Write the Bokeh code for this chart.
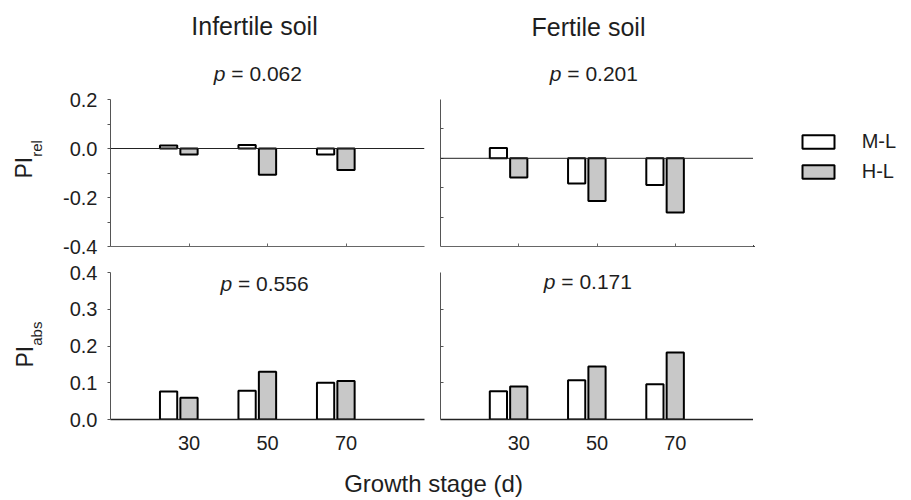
from math import pi
from bokeh.plotting import figure
from bokeh.layouts import column, row
from bokeh.models import (Range1d, FixedTicker, NumeralTickFormatter, Span, Label,
                          Legend, LegendItem, ColumnDataSource)
from bokeh.transform import dodge
from bokeh.embed import file_html
from bokeh.resources import INLINE

# ---------------- data ----------------
stages = [30, 50, 70]
series = ["M-L", "H-L"]
soil_titles = ["Infertile soil", "Fertile soil"]
p_values = ["0.062", "0.201", "0.556", "0.171"]

rel_infertile_ml = [0.012, 0.014, -0.024]
rel_infertile_hl = [-0.024, -0.107, -0.088]
rel_fertile_ml = [0.035, -0.086, -0.091]
rel_fertile_hl = [-0.065, -0.145, -0.184]
abs_infertile_ml = [0.076, 0.078, 0.100]
abs_infertile_hl = [0.059, 0.130, 0.105]
abs_fertile_ml = [0.077, 0.107, 0.096]
abs_fertile_hl = [0.090, 0.144, 0.182]

rel_major_ticks = [-0.4, -0.2, 0.0, 0.2]
rel_minor_ticks = [-0.3, -0.1, 0.1]
rel_fertile_ticks = [-0.2, -0.1, 0.0, 0.1]
abs_ticks = [0.0, 0.1, 0.2, 0.3, 0.4]
abs_minor_ticks = [0.1, 0.2, 0.3]

# ---------------- style ----------------
FONT = "Liberation Sans"
TXT = "#1e1e1e"
FILL = {"M-L": "#ffffff", "H-L": "#c8c8c8"}
OFFSET = {"M-L": -5.2, "H-L": 0.0}
BAR_W = 4.4
K_BASE = 0.42   # empirical baseline correction (fraction of font size)

# page layout (px)
TOP_H = 86            # strip with soil titles / top p values
ROW2_T, ROW2_B = 13, 12
ROW3_T, ROW3_B = 14, 40
FRAME_H = 147
ROW2_Y0 = TOP_H
ROW2_FB = ROW2_Y0 + ROW2_T + FRAME_H        # frame bottom of row 2 (page y)
ROW2_H = ROW2_T + FRAME_H + ROW2_B
ROW3_Y0 = ROW2_Y0 + ROW2_H
ROW3_FB = ROW3_Y0 + ROW3_T + FRAME_H
ROW3_H = ROW3_T + FRAME_H + ROW3_B
XT_H = 498 - (ROW3_Y0 + ROW3_H)


def make_fig(width, height, bl, br, bt, bb, yr):
    p = figure(width=width, height=height, x_range=Range1d(10, 90), y_range=Range1d(*yr),
               output_backend="svg", toolbar_location=None,
               min_border_left=bl, min_border_right=br, min_border_top=bt, min_border_bottom=bb)
    p.grid.visible = False
    p.outline_line_color = None
    p.background_fill_color = "white"
    p.border_fill_color = "white"
    return p


def make_strip(width, height, rng=(0, 1)):
    s = figure(width=width, height=height, x_range=Range1d(*rng), y_range=Range1d(*rng),
               output_backend="svg", toolbar_location=None, min_border=0,
               x_axis_location=None, y_axis_location=None)
    s.grid.visible = False
    s.outline_line_color = None
    s.background_fill_color = "white"
    s.border_fill_color = "white"
    return s


def add_bars(p, src):
    rs = []
    for name, col in (("M-L", "ml"), ("H-L", "hl")):
        r = p.vbar(x=dodge("stage", OFFSET[name], range=p.x_range), top=col, bottom=0,
                   width=BAR_W, source=src, fill_color=FILL[name],
                   line_color="black", line_width=2)
        rs.append(r)
    return rs


def add_text(p, origin, X, Y, text, size, italic=False, align="left", angle=0.0):
    # origin = page position (left, bottom) of the figure's frame; X, Y = wanted baseline point
    left, bottom = origin
    d = K_BASE * size
    if angle:
        X -= d
    else:
        Y -= d
    p.add_layout(Label(x=X - left, y=bottom - Y, x_units="screen", y_units="screen",
                       text=text, text_font=FONT, text_font_size=f"{size}px", text_color=TXT,
                       text_font_style="italic" if italic else "normal",
                       text_align=align, text_baseline="alphabetic", angle=angle))


def add_p(p, origin, X, Y, val):
    add_text(p, origin, X, Y, "p", 21, italic=True)
    add_text(p, origin, X + 17.5, Y, "= " + val, 21)


def style_left_axis(ax, ticks, minor, labeled, color="#555555"):
    ax.axis_line_color = color
    ax.major_tick_line_color = color
    ax.minor_tick_line_color = color
    if labeled:
        ax.ticker = FixedTicker(ticks=ticks, minor_ticks=minor)
        ax.formatter = NumeralTickFormatter(format="0.0")
        ax.major_tick_out = 3
        ax.major_tick_in = 0
        ax.minor_tick_out = 3
        ax.minor_tick_in = 0
        ax.major_label_standoff = 10
        ax.major_label_text_font = FONT
        ax.major_label_text_font_size = "20px"
        ax.major_label_text_color = TXT
    else:
        ax.ticker = FixedTicker(ticks=[], minor_ticks=minor)
        ax.minor_tick_in = 3
        ax.minor_tick_out = 0


def style_top_xaxis(ax):
    ax.ticker = FixedTicker(ticks=[], minor_ticks=stages)
    ax.axis_line_color = "#666666"
    ax.minor_tick_line_color = "#666666"
    ax.minor_tick_in = 3
    ax.minor_tick_out = 0


def style_bottom_xaxis(ax):
    ax.ticker = FixedTicker(ticks=stages)
    ax.axis_line_color = "#222222"
    ax.axis_line_width = 1.5
    ax.major_tick_in = 0
    ax.major_tick_out = 0
    ax.minor_tick_line_color = None
    ax.major_label_standoff = 16
    ax.major_label_text_font = FONT
    ax.major_label_text_font_size = "20px"
    ax.major_label_text_color = TXT


src_tl = ColumnDataSource(dict(stage=stages, ml=rel_infertile_ml, hl=rel_infertile_hl))
src_tr = ColumnDataSource(dict(stage=stages, ml=rel_fertile_ml, hl=rel_fertile_hl))
src_bl = ColumnDataSource(dict(stage=stages, ml=abs_infertile_ml, hl=abs_infertile_hl))
src_br = ColumnDataSource(dict(stage=stages, ml=abs_fertile_ml, hl=abs_fertile_hl))

# ---- top strip: soil titles and p values of the top panels ----
ts = make_strip(903, TOP_H)
add_text(ts, (0, TOP_H), 254, 35.5, soil_titles[0], 25, align="center")
add_text(ts, (0, TOP_H), 588, 36.5, soil_titles[1], 25, align="center")
add_p(ts, (0, TOP_H), 213.3, 81.5, p_values[0])
add_p(ts, (0, TOP_H), 549.3, 81.8, p_values[1])

# ---- row 2 (frames aligned across the row) ----
ls_top = make_strip(50, ROW2_H)
add_text(ls_top, (0, ROW2_FB), 33, 178, "PI", 23, angle=pi / 2)
add_text(ls_top, (0, ROW2_FB), 42.5, 156.3, "rel", 15, angle=pi / 2)

tl = make_fig(382, ROW2_H, 60, 8, ROW2_T, ROW2_B, (-0.4, 0.2))
add_bars(tl, src_tl)
tl.add_layout(Span(location=0, dimension="width", line_color="#222222", line_width=1))
style_left_axis(tl.yaxis[0], rel_major_ticks, rel_minor_ticks, True)
style_top_xaxis(tl.xaxis[0])

tr = make_fig(321, ROW2_H, 8, 0, ROW2_T, ROW2_B, (-0.3, 0.2))
add_bars(tr, src_tr)
tr.add_layout(Span(location=0, dimension="width", line_color="#222222", line_width=1))
style_left_axis(tr.yaxis[0], [], rel_fertile_ticks, False)
style_top_xaxis(tr.xaxis[0])

# legend strip: its bar renderers share the Fertile data, with ranges far away from it
lg = make_strip(150, ROW2_H, rng=(1000, 1001))
lg_rs = add_bars(lg, src_tr)
LG_LEFT, LG_TOP, LG_HEIGHT = 797.7, 129.5, 53
legend = Legend(items=[LegendItem(label=n, renderers=[r]) for n, r in zip(series, lg_rs)],
                location=(LG_LEFT - 753, ROW2_FB - (LG_TOP + LG_HEIGHT)),
                glyph_width=40, glyph_height=17, label_standoff=24, spacing=7,
                padding=0, margin=0, label_height=20,
                border_line_color=None, background_fill_alpha=0,
                label_text_font=FONT, label_text_font_size="20px", label_text_color=TXT)
lg.add_layout(legend)

# ---- row 3 ----
ls_bot = make_strip(50, ROW3_H)
add_text(ls_bot, (0, ROW3_FB), 34, 367, "PI", 23, angle=pi / 2)
add_text(ls_bot, (0, ROW3_FB), 42.5, 345.3, "abs", 15, angle=pi / 2)

bl = make_fig(382, ROW3_H, 60, 8, ROW3_T, ROW3_B, (0, 0.4))
add_bars(bl, src_bl)
style_left_axis(bl.yaxis[0], abs_ticks, [], True)
bl.yaxis[0].minor_tick_line_color = None
style_bottom_xaxis(bl.xaxis[0])
add_p(bl, (110, ROW3_FB), 220, 292.3, p_values[2])

br = make_fig(321, ROW3_H, 8, 0, ROW3_T, ROW3_B, (0, 0.4))
add_bars(br, src_br)
style_left_axis(br.yaxis[0], [], abs_minor_ticks, False)
style_bottom_xaxis(br.xaxis[0])
add_p(br, (440, ROW3_FB), 543.3, 290, p_values[3])

# ---- x-axis title strip ----
xt = make_strip(903, XT_H)
add_text(xt, (0, 498), 433, 493, "Growth stage (d)", 24, align="center")

layout = column(ts, row(ls_top, tl, tr, lg), row(ls_bot, bl, br), xt)

open("out.html", "w").write(file_html(layout, INLINE))
